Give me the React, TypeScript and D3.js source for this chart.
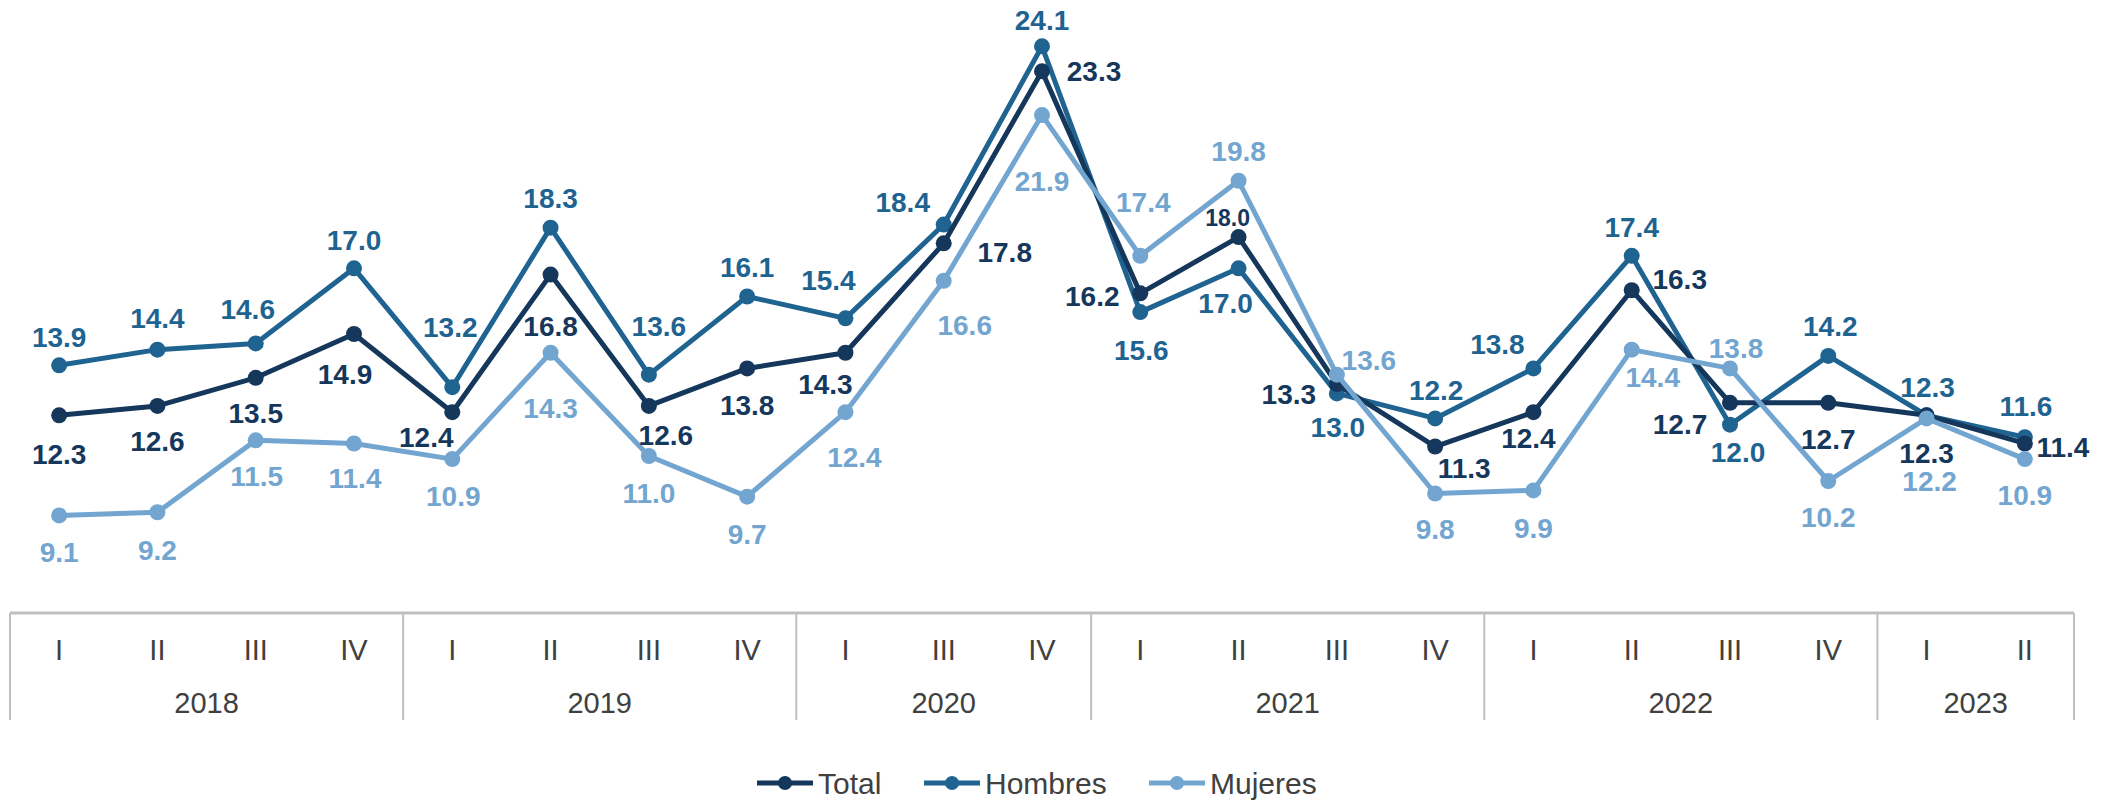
import * as d3 from "d3";
import React from "react";

// quarters shown on the axis (2020 II has no data)
const years = ["2018", "2019", "2020", "2021", "2022", "2023"];
const quarters = [
  ["I", "II", "III", "IV"],
  ["I", "II", "III", "IV"],
  ["I", "III", "IV"],
  ["I", "II", "III", "IV"],
  ["I", "II", "III", "IV"],
  ["I", "II"],
];

const total = [12.3, 12.6, 13.5, 14.9, 12.4, 16.8, 12.6, 13.8, 14.3, 17.8, 23.3, 16.2, 18.0, 13.3, 11.3, 12.4, 16.3, 12.7, 12.7, 12.3, 11.4];
const hombres = [13.9, 14.4, 14.6, 17.0, 13.2, 18.3, 13.6, 16.1, 15.4, 18.4, 24.1, 15.6, 17.0, 13.0, 12.2, 13.8, 17.4, 12.0, 14.2, 12.3, 11.6];
const mujeres = [9.1, 9.2, 11.5, 11.4, 10.9, 14.3, 11.0, 9.7, 12.4, 16.6, 21.9, 17.4, 19.8, 13.6, 9.8, 9.9, 14.4, 13.8, 10.2, 12.2, 10.9];

// label offsets from each point (dx, dy), as placed in the original
const totalLabelOff = [
  [0, 39], [0, 36], [0, 36], [-9, 40], [-26, 25], [0, 52], [17, 30], [0, 37], [-20, 32], [61, 9], [52, 0],
  [-48, 3], [-11, -19], [-48, 10], [29, 22], [-5, 26], [48, -11], [-50, 22], [0, 37], [0, 38], [38, 4],
];
const hombresLabelOff = [
  [0, -28], [0, -31], [-8, -34], [0, -28], [-2, -60], [0, -29], [10, -48], [0, -29], [-17, -38], [-41, -22], [0, -26],
  [1, 38], [-13, 35], [1, 34], [1, -28], [-36, -24], [0, -28], [8, 28], [2, -29], [1, -28], [1, -31],
];
const mujeresLabelOff = [
  [0, 37], [0, 38], [1, 36], [1, 35], [1, 37], [0, 56], [0, 38], [0, 38], [9, 45], [21, 45], [0, 66],
  [3, -53], [0, -29], [32, -14], [0, 36], [0, 38], [21, 28], [6, -20], [0, 36], [3, 63], [0, 36],
];

const W = 2113;
const H = 800;
const FONT = "'Liberation Sans', Arial, sans-serif";
const AXIS_COLOR = "#bfbfbf";
const TEXT_COLOR = "#404040";

const series = [
  { name: "Hombres", values: hombres, color: "#1f6391", off: hombresLabelOff },
  { name: "Total", values: total, color: "#15375b", off: totalLabelOff },
  { name: "Mujeres", values: mujeres, color: "#72a5d0", off: mujeresLabelOff },
];
const legendOrder = ["Total", "Hombres", "Mujeres"];

export default function App() {
  const keys: string[] = [];
  years.forEach((y, yi) => quarters[yi].forEach((q) => keys.push(y + "-" + q)));

  const x = d3.scaleBand().domain(keys).range([10, 2074]).padding(0);
  const y = d3.scaleLinear().domain([0, 25.58]).range([H, 0]);
  const cx = (i: number) => (x(keys[i]) as number) + x.bandwidth() / 2;

  const lineGen = d3
    .line<number>()
    .x((_, i) => cx(i))
    .y((d) => y(d));

  // year group boundaries
  const bounds: { year: string; x0: number; x1: number }[] = [];
  let idx = 0;
  years.forEach((yr, yi) => {
    const n = quarters[yi].length;
    const x0 = x(keys[idx]) as number;
    const x1 = (x(keys[idx + n - 1]) as number) + x.bandwidth();
    bounds.push({ year: yr, x0, x1 });
    idx += n;
  });

  const axisTop = 613;
  const axisBottom = 720;

  const legendX = [757, 924, 1149];
  const legendY = 783;

  return (
    <svg
      width={W}
      height={H}
      style={{ position: "absolute", left: 0, top: 0, background: "#fff" }}
      fontFamily={FONT}
    >
      {/* category axis */}
      <line x1={10} x2={2074} y1={axisTop} y2={axisTop} stroke={AXIS_COLOR} strokeWidth={3} />
      {[bounds[0].x0, ...bounds.map((b) => b.x1)].map((bx, i) => (
        <line key={"sep" + i} x1={bx} x2={bx} y1={axisTop} y2={axisBottom} stroke={AXIS_COLOR} strokeWidth={2} />
      ))}
      {keys.map((k, i) => (
        <text
          key={"q" + k}
          x={cx(i)}
          y={650}
          textAnchor="middle"
          dominantBaseline="central"
          fontSize={29}
          fill={TEXT_COLOR}
        >
          {k.split("-")[1]}
        </text>
      ))}
      {bounds.map((b) => (
        <text
          key={"y" + b.year}
          x={(b.x0 + b.x1) / 2}
          y={703}
          textAnchor="middle"
          dominantBaseline="central"
          fontSize={29}
          fill={TEXT_COLOR}
        >
          {b.year}
        </text>
      ))}

      {/* lines and markers */}
      {series.map((s) => (
        <g key={s.name}>
          <path d={lineGen(s.values) as string} fill="none" stroke={s.color} strokeWidth={5} strokeLinejoin="round" />
          {s.values.map((v, i) => (
            <circle key={i} cx={cx(i)} cy={y(v)} r={8} fill={s.color} />
          ))}
        </g>
      ))}

      {/* data labels */}
      {series.map((s) => (
        <g key={"lab" + s.name}>
          {s.values.map((v, i) => (
            <text
              key={i}
              x={cx(i) + s.off[i][0]}
              y={y(v) + s.off[i][1]}
              textAnchor="middle"
              dominantBaseline="central"
              fontSize={s.name === "Total" && i === 12 ? 23 : 28}
              fontWeight="bold"
              fill={s.color}
            >
              {v.toFixed(1)}
            </text>
          ))}
        </g>
      ))}

      {/* legend */}
      {legendOrder.map((name, i) => {
        const s = series.find((d) => d.name === name)!;
        const lx = legendX[i];
        return (
          <g key={"leg" + name}>
            <line x1={lx} x2={lx + 56} y1={legendY} y2={legendY} stroke={s.color} strokeWidth={5} />
            <circle cx={lx + 28} cy={legendY} r={7} fill={s.color} />
            <text x={lx + 61} y={legendY} dominantBaseline="central" fontSize={30} fill={TEXT_COLOR}>
              {name}
            </text>
          </g>
        );
      })}
    </svg>
  );
}
